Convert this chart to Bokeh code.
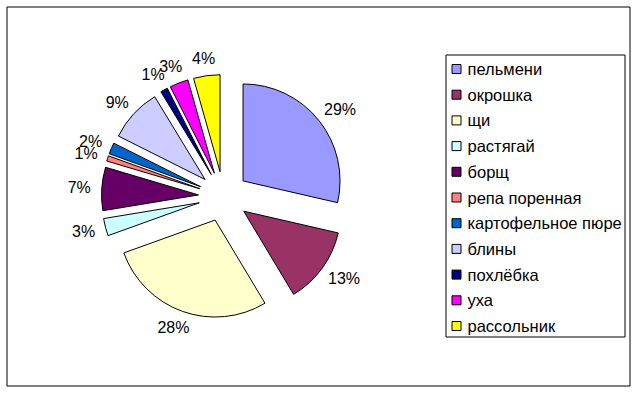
import numpy as np
from bokeh.plotting import figure
from bokeh.models import Range1d, ColumnDataSource
from bokeh.core.properties import value
from bokeh.embed import file_html
from bokeh.resources import INLINE

# ---- data ----
dishes = ["пельмени", "окрошка", "щи", "растягай", "борщ", "репа поренная",
          "картофельное пюре", "блины", "похлёбка", "уха", "рассольник"]
shares = [28.6, 12.8, 28.1, 2.9, 7.2, 0.9, 1.9, 8.9, 1.2, 3.1, 4.4]
colors = ["#9999FF", "#993366", "#FFFFCC", "#CCFFFF", "#660066", "#FF8080",
          "#0066CC", "#CCCCFF", "#000080", "#FF00FF", "#FFFF00"]

# ---- layout ----
W, H = 636, 393
CX, CY = 223, H - 196
R = 97
EXPLODE = 25
LABEL_R0 = 133
FONT = "Liberation Sans"
LABEL_FS = 16
LEGEND_FS = "16.5px"

vals = np.array(shares, dtype=float)
fr = vals / vals.sum()
cum_end = np.cumsum(fr)
cum_start = cum_end - fr
mid = (cum_start + cum_end) / 2
theta_mid = np.pi / 2 - mid * 2 * np.pi
labels = [f"{int(round(f * 100))}%" for f in fr]

# label box pushed outward from the anchor point on the label circle
lab_w = np.array([LABEL_FS * (0.556 * (len(s) - 1) + 0.889) for s in labels])
lab_h = LABEL_FS * 0.8
ux, uy = np.cos(theta_mid), np.sin(theta_mid)

pie = ColumnDataSource(dict(
    x=CX + EXPLODE * ux,
    y=CY + EXPLODE * uy,
    start=np.pi / 2 - cum_end * 2 * np.pi,
    end=np.pi / 2 - cum_start * 2 * np.pi,
    color=colors,
    lx=CX + LABEL_R0 * ux + lab_w / 2 * ux,
    ly=CY + LABEL_R0 * uy + lab_h / 2 * uy,
    label=labels,
))

p = figure(width=W, height=H, x_range=Range1d(0, W), y_range=Range1d(0, H),
           output_backend="svg", toolbar_location=None,
           x_axis_location=None, y_axis_location=None,
           min_border=0, outline_line_color=None, background_fill_color="white")
p.grid.visible = False

# outer chart frame
p.rect(x=(6.5 + 629.5) / 2, y=H - (6.5 + 385.5) / 2, width=629.5 - 6.5,
       height=385.5 - 6.5, fill_color=None, line_color="black", line_width=1)

p.wedge(x="x", y="y", radius=R, start_angle="start", end_angle="end",
        direction="anticlock", fill_color="color", line_color="black",
        line_width=1, source=pie)

p.text(x="lx", y="ly", text="label", source=pie, text_align="center",
       text_baseline="middle", text_font=value(FONT),
       text_font_size=f"{LABEL_FS}px", text_color="black")

# legend
L_LEFT, L_TOP, L_RIGHT, L_BOTTOM = 445.5, 54.5, 624.5, 336.5
p.rect(x=(L_LEFT + L_RIGHT) / 2, y=H - (L_TOP + L_BOTTOM) / 2,
       width=L_RIGHT - L_LEFT, height=L_BOTTOM - L_TOP,
       fill_color="white", line_color="black", line_width=1)

n = len(dishes)
row_y = H - (68.5 + 25.7 * np.arange(n))
leg = ColumnDataSource(dict(
    sx=[456.0] * n, sy=row_y, tx=[467.0] * n, name=dishes, color=colors))
p.rect(x="sx", y="sy", width=9, height=9, fill_color="color",
       line_color="black", line_width=1, source=leg)
p.text(x="tx", y="sy", text="name", source=leg, text_align="left",
       text_baseline="middle", text_font=value(FONT), text_font_size=LEGEND_FS,
       text_color="black")

open("out.html", "w").write(file_html(p, INLINE))
